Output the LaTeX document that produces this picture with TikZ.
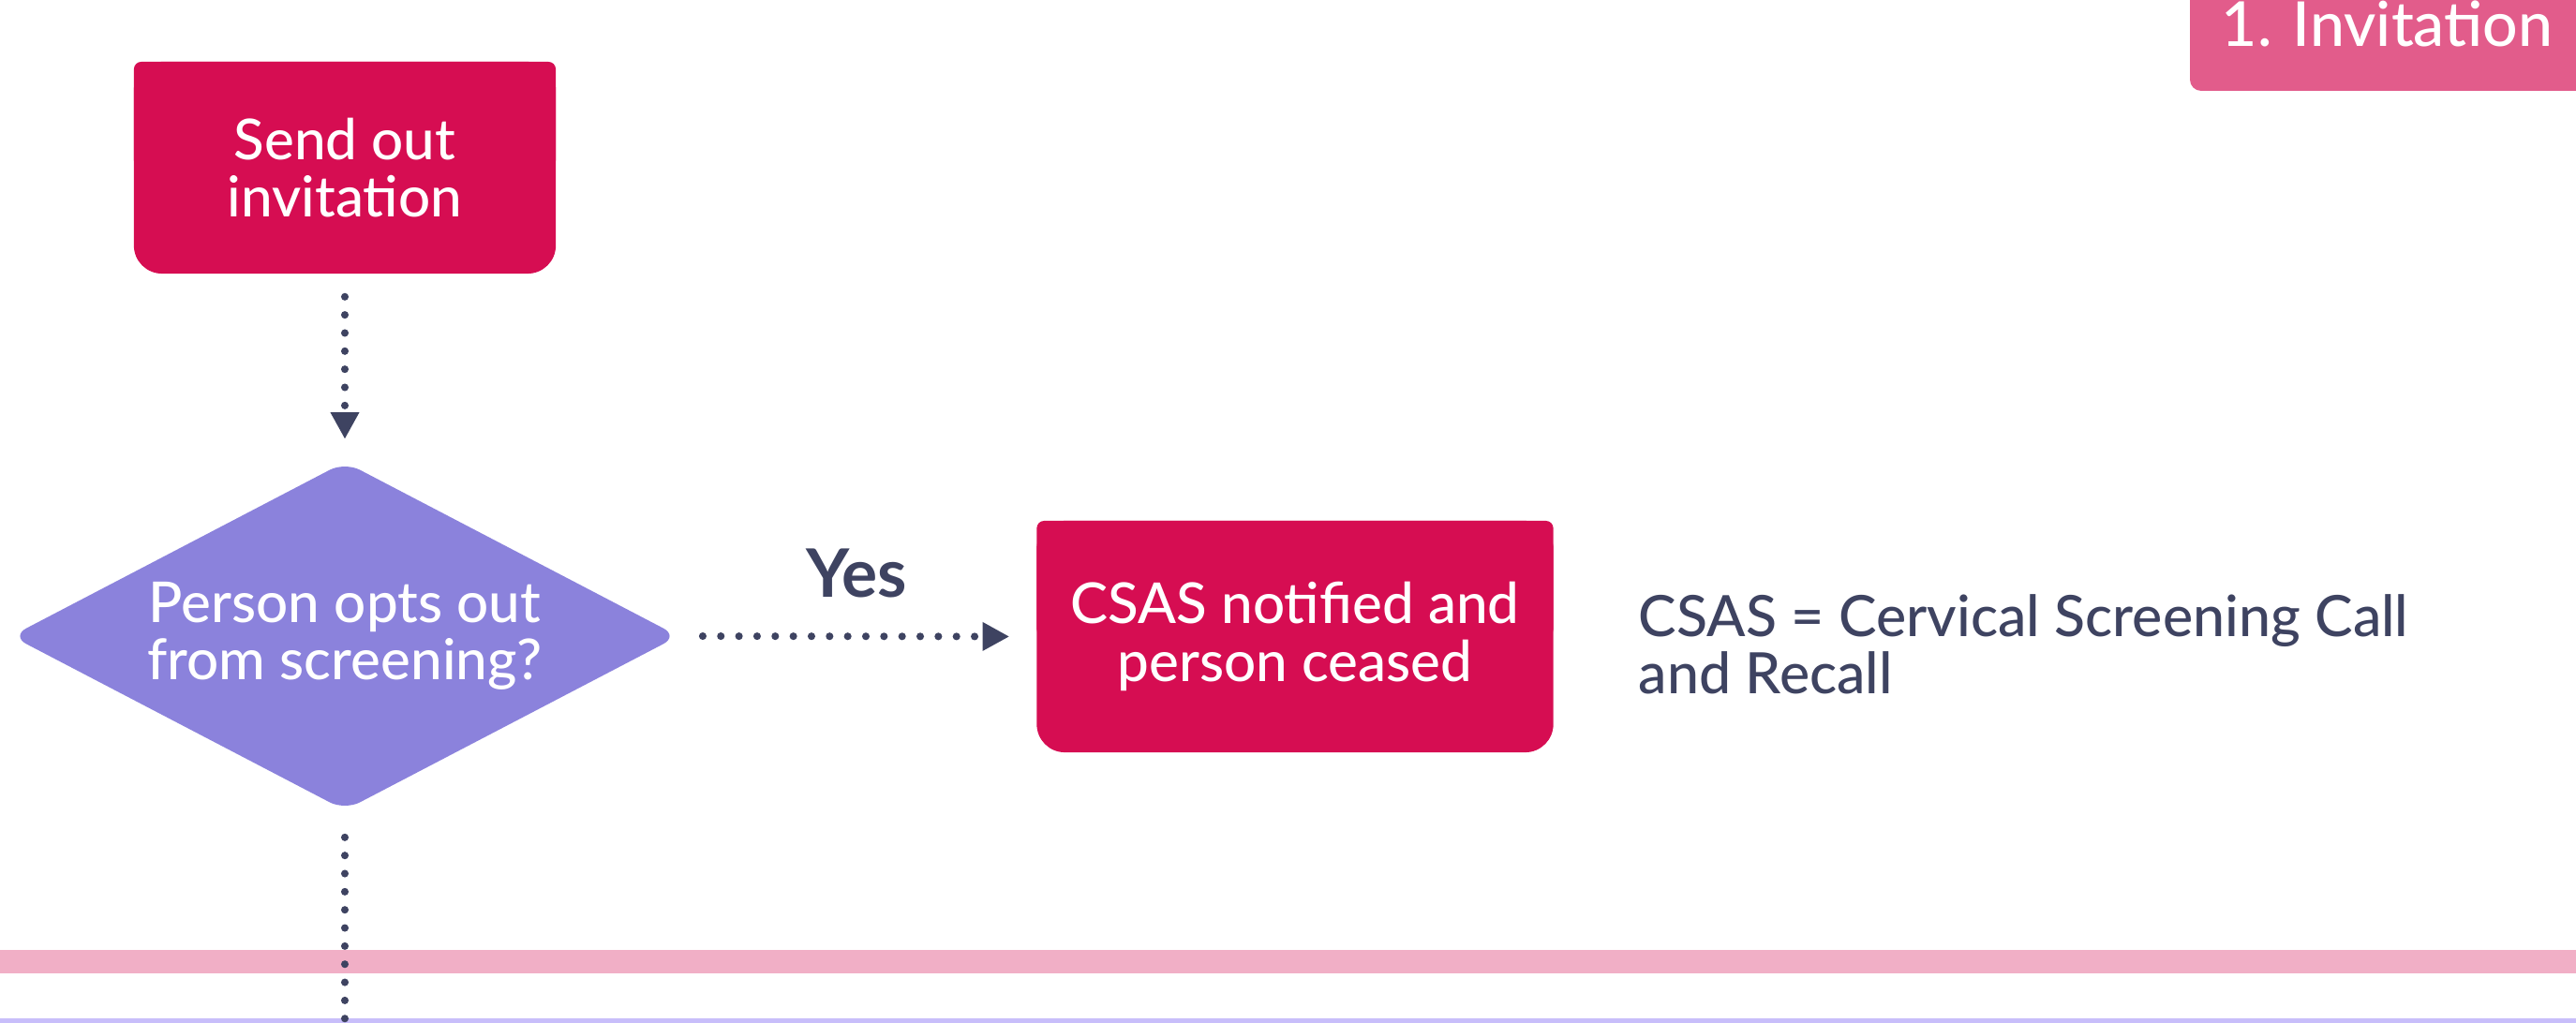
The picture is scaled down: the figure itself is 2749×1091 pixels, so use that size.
\documentclass[tikz,border=0pt]{standalone}
\usepackage{fontspec}
\IfFontExistsTF{Lato Medium}{\setmainfont{Lato Medium}[BoldFont={Lato Bold}]}{\setmainfont{Lato}}
\usetikzlibrary{shapes.geometric, arrows.meta}

\definecolor{crimson}{HTML}{D60D52}
\definecolor{tabpink}{HTML}{E25C8B}
\definecolor{optpurple}{HTML}{8B82DC}
\definecolor{inknavy}{HTML}{3E4361}
\definecolor{bandpink}{HTML}{F1AFC6}
\definecolor{bandlilac}{HTML}{C8BEFA}

\begin{document}
\begin{tikzpicture}[
    x=0.01cm, y=-0.01cm,
    procbox/.style={rectangle, minimum width=4.5cm, minimum height=2.26cm, inner sep=0pt,
        text=white, align=center, font=\fontsize{17.1}{17.4}\selectfont,
        path picture={
            \fill[crimson, rounded corners=0.3cm] (path picture bounding box.south west) rectangle (path picture bounding box.north east);
            \fill[crimson, rounded corners=0.08cm] (path picture bounding box.west) rectangle (path picture bounding box.north east);
        }},
    decision/.style={diamond, aspect=1.915, minimum width=7.12cm, minimum height=3.72cm, inner sep=0pt,
        fill=optpurple, rounded corners=0.18cm, text=white, align=center, font=\fontsize{17.1}{17.4}\selectfont},
    notetext/.style={text=inknavy, align=left, inner sep=0pt, font=\fontsize{17.3}{17.4}\selectfont},
    flow/.style={inknavy, line width=2.3pt, line cap=round, dash pattern=on 0pt off 5.5pt},
    flowarrow/.style={flow, -{Triangle[width=0.31cm, length=0.28cm, line width=0pt]}}
]
    \useasboundingbox (0,0) rectangle (2749,1091);

    % Swimlane bands
    \fill[bandpink] (0,1014) rectangle (2749,1039);
    \fill[bandlilac] (0,1087) rectangle (2749,1095);

    % Stage tab
    \fill[tabpink, rounded corners=0.12cm] (2337,-60) rectangle (2800,97);
    \node[anchor=base west, inner sep=0pt, text=white, font=\fontsize{18.8}{19}\selectfont] (stagetab) at (2370,50) {1. Invitation};

    % Process and decision nodes
    \node[procbox] (invite) at (368,179) {Send out\\invitation};
    \node[decision] (optout) at (368,679) {Person opts out\\from screening?};
    \node[procbox, minimum width=5.51cm, minimum height=2.47cm] (ceased) at (1382,679.5) {CSAS notified and\\person ceased};
    \node[notetext, anchor=west] (csasnote) at (1748,688) {CSAS = Cervical Screening Call\\and Recall};

    % Connectors
    \coordinate (exitdown) at (368,1130);
    \draw[flowarrow, shorten <=0.24cm, shorten >=0.24cm] (invite.south) -- (optout.north);
    \draw[flowarrow, shorten <=0.25cm, shorten >=0.29cm] (optout.east) -- (ceased.west);
    \draw[flow, shorten <=0.28cm] (optout.south) -- (exitdown);
    \node[anchor=base, inner sep=0pt, text=inknavy, font=\bfseries\fontsize{20.3}{20}\selectfont] (yeslabel) at (914,637) {Yes};
\end{tikzpicture}
\end{document}
